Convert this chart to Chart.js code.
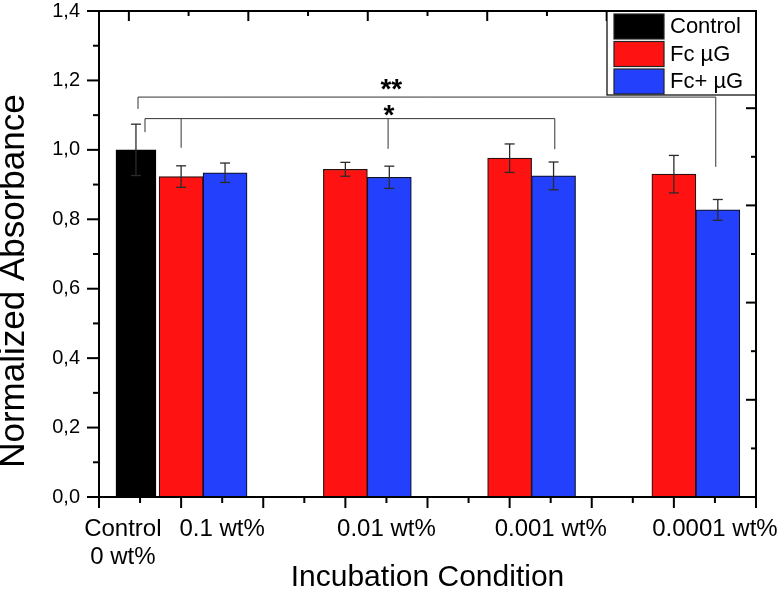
<!DOCTYPE html>
<html>
<head>
<meta charset="utf-8">
<script src="https://cdn.jsdelivr.net/npm/chart.js@4.4.1/dist/chart.umd.min.js"></script>
<style>
  html, body { margin: 0; padding: 0; background: #fff; }
  canvas { display: block; }
</style>
</head>
<body>
<canvas id="myChart" width="783" height="594"></canvas>
<script>
(() => {
  'use strict'

  const seriesNames = ['Control', 'Fc µG', 'Fc+ µG']
  const xTickLabels = [['Control', '0 wt%'], '0.1 wt%', '0.01 wt%', '0.001 wt%', '0.0001 wt%']
  const xTickValues = [0.29, 1.5, 3.5, 5.5, 7.5]

  const controlX = [0.45]
  const controlValues = [1.0]
  const controlErrors = [0.074]

  const fcX = [1, 3, 5, 7]
  const fcValues = [0.923, 0.944, 0.976, 0.930]
  const fcErrors = [0.031, 0.020, 0.041, 0.054]

  const fcPlusX = [1.535, 3.535, 5.535, 7.535]
  const fcPlusValues = [0.934, 0.921, 0.925, 0.827]
  const fcPlusErrors = [0.028, 0.032, 0.040, 0.030]

  // significance brackets
  const sigMarks = ['**', '*']
  const sigLevels = [1.152, 1.090]
  const sigMarkX = [3.56, 3.53]
  const sigMarkY = [1.196, 1.121]
  const sigDrops = [
    [[0.475, 1.118], [7.51, 0.951]],
    [[0.56, 1.051], [1.0, 1.006], [3.52, 1.003], [5.55, 1.002]]
  ]

  const colors = ['#000000', '#fe1212', '#2341fd']

  Chart.defaults.font.family = "'Liberation Sans', Arial, sans-serif"
  Chart.defaults.color = '#000'

  const toPoints = (xs, ys) => xs.map((v, i) => ({ x: v, y: ys[i] }))

  const line = (ctx, x1, y1, x2, y2) => {
    ctx.beginPath()
    ctx.moveTo(x1, y1)
    ctx.lineTo(x2, y2)
    ctx.stroke()
  }

  const decor = {
    id: 'decor',
    afterDatasetsDraw(chart) {
      const { ctx, scales } = chart
      const { x, y } = scales
      ctx.save()

      // error bars
      ctx.strokeStyle = '#2b2b2b'
      ctx.lineWidth = 1.3
      chart.data.datasets.forEach((ds, di) => {
        const meta = chart.getDatasetMeta(di)
        meta.data.forEach((bar, i) => {
          const v = ds.data[i].y
          const e = ds.errors[i]
          const top = y.getPixelForValue(v + e)
          const bot = y.getPixelForValue(v - e)
          line(ctx, bar.x, top, bar.x, bot)
          line(ctx, bar.x - 5, top, bar.x + 5, top)
          line(ctx, bar.x - 5, bot, bar.x + 5, bot)
        })
      })

      // brackets
      ctx.strokeStyle = '#333'
      ctx.lineWidth = 1
      sigDrops.forEach((drops, k) => {
        const yl = y.getPixelForValue(sigLevels[k])
        const xs = drops.map(d => x.getPixelForValue(d[0]))
        line(ctx, Math.min(...xs), yl, Math.max(...xs), yl)
        drops.forEach((d, j) => line(ctx, xs[j], yl, xs[j], y.getPixelForValue(d[1])))
        ctx.fillStyle = '#000'
        ctx.font = "bold 28px 'Liberation Sans', Arial, sans-serif"
        ctx.textAlign = 'center'
        ctx.textBaseline = 'alphabetic'
        ctx.fillText(sigMarks[k], x.getPixelForValue(sigMarkX[k]), y.getPixelForValue(sigMarkY[k]) + 0.57 * 28)
      })
      ctx.restore()
    },
    afterDraw(chart) {
      const { ctx, chartArea: a, scales } = chart
      const { x, y, xTop, yRight } = scales
      ctx.save()
      ctx.strokeStyle = '#000'
      ctx.lineWidth = 2

      // bottom ticks (outward)
      for (let k = 0; k <= 16; k++) {
        const px = x.getPixelForValue(k / 2)
        line(ctx, px, a.bottom, px, a.bottom + (k % 2 ? 6 : 11))
      }
      // left ticks (outward)
      for (let k = 0; k <= 14; k++) {
        const py = y.getPixelForValue(k / 10)
        line(ctx, a.left, py, a.left - (k % 2 ? 6 : 12), py)
      }
      // top ticks (inward)
      for (let k = 0; k <= 10; k++) {
        const px = xTop.getPixelForValue(k)
        line(ctx, px, a.top, px, a.top + (k % 2 ? 5 : 10))
      }
      // right ticks (inward)
      for (let k = 0; k <= 10; k++) {
        const py = yRight.getPixelForValue(k)
        line(ctx, a.right, py, a.right - (k % 2 ? 5 : 10), py)
      }

      // legend
      const lw = 149
      const lx = a.right - lw
      const ly = a.top
      ctx.fillStyle = '#fff'
      ctx.fillRect(lx, ly, lw, 84)
      ctx.lineWidth = 1.2
      ctx.strokeRect(lx, ly, lw, 84)
      ctx.font = "22px 'Liberation Sans', Arial, sans-serif"
      ctx.textAlign = 'left'
      ctx.textBaseline = 'middle'
      chart.data.datasets.forEach((ds, i) => {
        const sy = ly + 3 + i * 27.5
        ctx.fillStyle = ds.backgroundColor
        ctx.fillRect(lx + 7, sy, 50, 25)
        ctx.strokeStyle = '#222'
        ctx.strokeRect(lx + 7, sy, 50, 25)
        ctx.fillStyle = '#000'
        ctx.fillText(ds.label, lx + 63, sy + 13)
      })

      // frame
      ctx.strokeStyle = '#000'
      ctx.lineWidth = 2
      ctx.strokeRect(a.left, a.top, a.width, a.height)
      ctx.restore()
    }
  }

  const ctx = document.getElementById('myChart')
  const myChart = new Chart(ctx, {
    type: 'bar',
    data: {
      datasets: [{
        label: seriesNames[0],
        data: toPoints(controlX, controlValues),
        errors: controlErrors,
        backgroundColor: colors[0],
        borderColor: '#000',
        borderWidth: 1.2,
        barThickness: 40
      }, {
        label: seriesNames[1],
        data: toPoints(fcX, fcValues),
        errors: fcErrors,
        backgroundColor: colors[1],
        borderColor: '#2a1010',
        borderWidth: 1.2,
        barThickness: 44
      }, {
        label: seriesNames[2],
        data: toPoints(fcPlusX, fcPlusValues),
        errors: fcPlusErrors,
        backgroundColor: colors[2],
        borderColor: '#10102a',
        borderWidth: 1.2,
        barThickness: 44
      }]
    },
    options: {
      responsive: false,
      animation: false,
      grouped: false,
      layout: {
        padding: { top: 11, right: 27, left: 0, bottom: 0 }
      },
      scales: {
        x: {
          type: 'linear',
          offset: false,
          min: 0,
          max: 8,
          grid: { display: false, drawTicks: false, offset: false },
          border: { display: false },
          afterBuildTicks: scale => {
            scale.ticks = xTickValues.map(v => ({ value: v }))
          },
          afterFit: scale => {
            scale.height = 97
            scale.paddingLeft = 0
            scale.paddingRight = 0
          },
          ticks: {
            autoSkip: false,
            maxRotation: 0,
            padding: 18,
            font: { size: 24, lineHeight: 1.17 },
            callback: (v, i) => xTickLabels[i]
          },
          title: {
            display: true,
            text: 'Incubation Condition',
            font: { size: 30, lineHeight: 1 },
            padding: { top: 0, bottom: 1 }
          }
        },
        y: {
          min: 0,
          max: 1.4,
          grid: { display: false, drawTicks: false },
          border: { display: false },
          afterFit: scale => {
            scale.width = 99
            scale.paddingTop = 0
            scale.paddingBottom = 0
          },
          ticks: {
            stepSize: 0.2,
            padding: 19,
            font: { size: 20 },
            callback: v => v.toFixed(1).replace('.', ',')
          },
          title: {
            display: true,
            align: 'start',
            text: '   Normalized Absorbance',
            font: { size: 35, lineHeight: 0.8 },
            padding: { top: 0, bottom: 0 }
          }
        },
        xTop: { type: 'linear', position: 'top', min: 0, max: 10, display: false },
        yRight: { type: 'linear', position: 'right', min: 0, max: 10, display: false }
      },
      plugins: {
        legend: { display: false },
        tooltip: { enabled: false }
      }
    },
    plugins: [decor]
  })
})()
</script>
</body>
</html>
